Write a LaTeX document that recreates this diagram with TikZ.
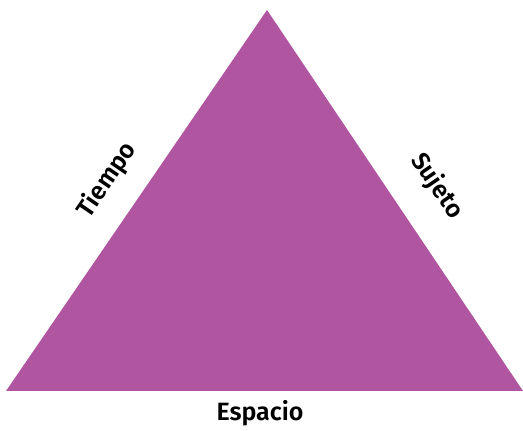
\documentclass[tikz,border=0pt]{standalone}
\usepackage{fontspec}
\setmainfont{Fira Sans}[BoldFont={Fira Sans SemiBold}]
\definecolor{triangulo}{HTML}{B055A0}
\tikzset{
  etiqueta/.style={font=\fontsize{12.5}{15}\selectfont\bfseries, text=black, inner sep=1pt},
}

\begin{document}
\begin{tikzpicture}[x=0.5pt,y=-0.5pt]
    \useasboundingbox (0,0) rectangle (523,431);
    \coordinate (arriba) at (267,10);
    \coordinate (izq) at (6,391);
    \coordinate (der) at (523,391);
    \fill[triangulo] (arriba) -- (izq) -- (der) -- cycle;
    \node[etiqueta, rotate=55.6] (tiempo) at (107,180) {Tiempo};
    \node[etiqueta, rotate=-55.6] (sujeto) at (437,186) {Sujeto};
    \node[etiqueta] (espacio) at (260,413) {Espacio};
  \end{tikzpicture}
\end{document}
